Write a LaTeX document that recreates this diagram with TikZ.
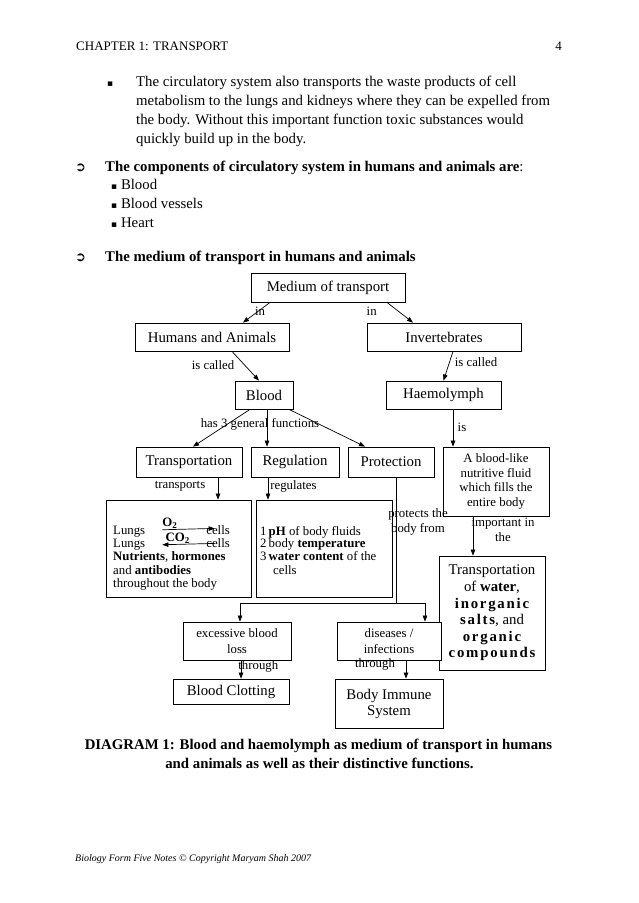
\documentclass[tikz,border=0pt]{standalone}
\usepackage{fontspec}
\setmainfont{Liberation Serif}
\newfontfamily\symfont{DejaVu Sans}
\newfontfamily\widefont[LetterSpace=12]{Liberation Serif}
\usepackage{tikz}
\usetikzlibrary{positioning, arrows.meta}

\newcommand{\bsq}{{\symfont\fontsize{9}{9}\selectfont ▪}}
\newcommand{\harr}{{\symfont\fontsize{13}{13}\selectfont ➲}}
\newcommand{\wbf}[1]{{\widefont\bfseries #1}}

\begin{document}
\begin{tikzpicture}[x=1pt, y=-1pt,
    box/.style={draw, rectangle, line width=0.8pt, fill=white, inner sep=1pt, align=center, font=\fontsize{14.8}{16}\selectfont},
    sbox/.style={box, font=\fontsize{12.8}{14.5}\selectfont},
    lbl/.style={inner sep=0pt, align=center, font=\fontsize{12.8}{14.5}\selectfont},
    txt/.style={inner sep=0pt, anchor=base west, font=\fontsize{14.8}{19}\selectfont},
    dtxt/.style={inner sep=0pt, anchor=base west, font=\fontsize{12.8}{14}\selectfont},
    arr/.style={line width=0.7pt, -{Triangle[length=6pt, width=4.5pt]}},
    link/.style={line width=0.7pt},
]
\useasboundingbox[fill=white] (0,0) rectangle (638,903);

% page text
\node[txt, font=\fontsize{13}{15}\selectfont] (chap) at (76,50) {CHAPTER 1: TRANSPORT};
\node[txt, anchor=base east, font=\fontsize{13}{15}\selectfont] (pgno) at (562,50) {4};

\node[txt] (bul0) at (107,86) {\bsq};
\node[txt] (par1) at (136,86) {The circulatory system also transports the waste products of cell};
\node[txt] (par2) at (136,105) {metabolism to the lungs and kidneys where they can be expelled from};
\node[txt] (par3) at (136,124) {the body. Without this important function toxic substances would};
\node[txt] (par4) at (136,143) {quickly build up in the body.};

\node[txt] (harr1) at (75,171) {\harr};
\node[txt] (head1) at (105,171) {\textbf{The components of circulatory system in humans and animals are}:};
\node[txt] (comp1) at (111,189.5) {\bsq\ Blood};
\node[txt] (comp2) at (111,208) {\bsq\ Blood vessels};
\node[txt] (comp3) at (111,227) {\bsq\ Heart};

\node[txt] (harr2) at (75,261) {\harr};
\node[txt] (head2) at (105,261) {\textbf{The medium of transport in humans and animals}};

% boxes
\node[box, minimum width=154pt, minimum height=29pt] (medium) at (328,287.5) {Medium of transport};
\node[box, minimum width=154pt, minimum height=28pt] (humans) at (212,337) {Humans and Animals};
\node[box, minimum width=154pt, minimum height=28pt] (invert) at (444,337) {Invertebrates};
\node[box, minimum width=58pt, minimum height=28pt] (blood) at (264,395) {Blood};
\node[box, minimum width=115pt, minimum height=28pt] (haemo) at (443.5,395) {Haemolymph};
\node[box, minimum width=106pt, minimum height=30pt] (transp) at (189,462) {Transportation};
\node[box, minimum width=88pt, minimum height=30pt] (regul) at (295,462) {Regulation};
\node[box, minimum width=86pt, minimum height=30pt] (prot) at (391,462) {Protection};
\node[sbox, minimum width=106pt, minimum height=69pt] (blike) at (496,481.5) {A blood-like\\nutritive fluid\\which fills the\\entire body};
\node[box, minimum width=145pt, minimum height=97pt] (tdet) at (178.5,548.5) {};
\node[box, minimum width=136pt, minimum height=97pt] (rdet) at (324,548.5) {};
\node[box, minimum width=106pt, minimum height=114pt, font=\fontsize{14.8}{16.6}\selectfont] (water) at (492,613)
    {Transportation\\of \textbf{water},\\\wbf{inorganic}\\\wbf{salts}, and\\\wbf{organic}\\\wbf{compounds}};
\node[sbox, minimum width=108pt, minimum height=38pt, font=\fontsize{12.8}{16}\selectfont] (excess) at (237,641) {excessive blood\\loss};
\node[sbox, minimum width=104pt, minimum height=38pt, font=\fontsize{12.8}{16}\selectfont] (disease) at (389,641) {diseases /\\infections};
\node[box, minimum width=116pt, minimum height=25pt] (clot) at (231,691.5) {Blood Clotting};
\node[box, minimum width=108pt, minimum height=49pt] (immune) at (389,703.5) {Body Immune\\System};

% box contents
\node[dtxt] (lung1) at (113,534.5) {Lungs};
\node[dtxt, anchor=base east] (cell1) at (230,534.5) {cells};
\node[dtxt] (lung2) at (113,547.5) {Lungs};
\node[dtxt, anchor=base east] (cell2) at (230,547.5) {cells};
\node[dtxt] (nutr) at (113,560.5) {\textbf{Nutrients}, \textbf{hormones}};
\node[dtxt] (anti) at (113,574) {and \textbf{antibodies}};
\node[dtxt] (thru) at (113,587.5) {throughout the body};
\draw[arr, shorten <=17pt, shorten >=-8.5pt] ([yshift=1.5pt]lung1.east) -- ([yshift=1.5pt]cell1.west)
    node[midway, above=1pt, xshift=-6pt, inner sep=0pt, font=\bfseries\fontsize{12.8}{14}\selectfont] (oxy) {O\textsubscript{2}};
\draw[arr, shorten <=-8.5pt, shorten >=17pt] ([yshift=-0.5pt]cell2.west) -- ([yshift=-0.5pt]lung2.east)
    node[midway, above=1pt, xshift=2pt, inner sep=0pt, font=\bfseries\fontsize{12.8}{14}\selectfont] (cdo) {CO\textsubscript{2}};

\node[dtxt] (reg1) at (260,535.5) {1\,\textbf{pH} of body fluids};
\node[dtxt] (reg2) at (260,547.5) {2\,body \textbf{temperature}};
\node[dtxt] (reg3) at (260,560.5) {3\,\textbf{water content} of the};
\node[dtxt] (reg4) at (273,574) {cells};

% labels
\node[lbl] (in1) at (260,311.7) {in};
\node[lbl] (in2) at (371.7,311.7) {in};
\node[lbl] (called1) at (213,365) {is called};
\node[lbl] (called2) at (476,362) {is called};
\node[lbl] (has3) at (260,424) {has 3 general functions};
\node[lbl] (is1) at (462,427) {is};
\node[lbl] (tports) at (180,486) {transports};
\node[lbl] (regs) at (293.5,486) {regulates};
\node[lbl] (protects) at (418,522) {protects the\\body from};
\node[lbl] (import) at (503,530) {important in\\the};
\node[lbl] (thr1) at (258.3,666) {through};
\node[lbl] (thr2) at (375,664) {through};

% connectors
\draw[arr] ([xshift=-58pt]medium.south) -- ([xshift=31pt]humans.north);
\draw[arr] ([xshift=59pt]medium.south) -- ([xshift=-31pt]invert.north);
\draw[arr] ([xshift=20pt]humans.south) -- ([xshift=-5pt]blood.north);
\draw[arr] ([xshift=9pt]invert.south) -- (haemo.north);
\draw[arr] ([xshift=-14pt]blood.south) -- ([xshift=4pt]transp.north);
\draw[arr] ([xshift=3pt]blood.south) -- ([xshift=3pt]blood.south |- regul.north);
\draw[arr] ([xshift=25pt]blood.south) -- ([xshift=-26pt]prot.north);
\draw[arr] ([xshift=9.5pt]haemo.south) -- ([xshift=9.5pt]haemo.south |- blike.north);
\draw[arr] ([xshift=29pt]transp.south) -- ([xshift=29pt]transp.south |- tdet.north);
\draw[arr] ([xshift=-27pt]regul.south) -- ([xshift=-27pt]regul.south |- rdet.north);
\draw[arr] ([xshift=-23pt]blike.south) -- ([xshift=-23pt]blike.south |- water.north);

\coordinate (pjoin) at (396,603);
\draw[link] (prot.south -| pjoin) -- (pjoin);
\draw[arr] (pjoin) -| ([xshift=3pt]excess.north);
\draw[arr] (pjoin) -| ([xshift=36pt]disease.north);
\draw[arr] ([xshift=4pt]excess.south) -- ([xshift=4pt]excess.south |- clot.north);
\draw[arr] ([xshift=17pt]disease.south) -- ([xshift=17pt]disease.south |- immune.north);

% caption and footer
\node[inner sep=0pt, anchor=base, font=\bfseries\fontsize{14.8}{18}\selectfont] (cap1) at (318.5,749.5)
    {DIAGRAM 1: Blood and haemolymph as medium of transport in humans};
\node[inner sep=0pt, anchor=base, font=\bfseries\fontsize{14.8}{18}\selectfont] (cap2) at (319.5,768)
    {and animals as well as their distinctive functions.};
\node[txt, font=\itshape\fontsize{10}{12}\selectfont] (foot) at (75,861) {Biology Form Five Notes © Copyright Maryam Shah 2007};
\end{tikzpicture}
\end{document}
